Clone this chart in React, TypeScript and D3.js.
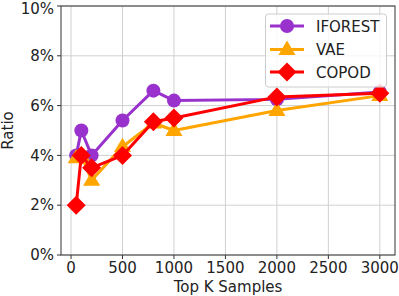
import React from "react";
import * as d3 from "d3";

const topK = [50, 100, 200, 500, 800, 1000, 2000, 3000];
const iforest = [4.0, 5.0, 4.0, 5.4, 6.6, 6.2, 6.25, 6.55];
const vae = [3.9, 4.0, 3.0, 4.35, 5.3, 5.0, 5.8, 6.4];
const copod = [2.0, 4.0, 3.5, 4.0, 5.35, 5.5, 6.35, 6.5];
const xTicks = [0, 500, 1000, 1500, 2000, 2500, 3000];
const yTicks = [0, 2, 4, 6, 8, 10];

const series = [
  { name: "IFOREST", values: iforest, color: "#9932CC", marker: "circle" },
  { name: "VAE", values: vae, color: "#FFA500", marker: "triangle" },
  { name: "COPOD", values: copod, color: "#FF0000", marker: "diamond" },
];

const W = 399;
const H = 296;
const m = { left: 61, right: 4, top: 6, bottom: 41 };
const font = "DejaVu Sans, sans-serif";

const Marker = ({ type, x, y, color }: { type: string; x: number; y: number; color: string }) => {
  if (type === "circle") return <circle cx={x} cy={y} r={7} fill={color} />;
  if (type === "triangle") {
    const r = 9;
    return (
      <path
        d={`M${x},${y - r} L${x + r * 0.95},${y + r * 0.6} L${x - r * 0.95},${y + r * 0.6}Z`}
        fill={color}
      />
    );
  }
  const r = 9.5;
  return <path d={`M${x},${y - r} L${x + r},${y} L${x},${y + r} L${x - r},${y}Z`} fill={color} />;
};

const App = () => {
  const x = d3.scaleLinear().domain([-97.5, 3147.5]).range([m.left, W - m.right]);
  const y = d3.scaleLinear().domain([0, 10]).range([H - m.bottom, m.top]);
  const line = d3
    .line<number>()
    .x((_, i) => x(topK[i]))
    .y((d) => y(d));

  const lx = 270;
  const ly = [26, 49.5, 72];

  return (
    <svg width={W} height={H} style={{ position: "absolute", left: 0, top: 0 }} fontFamily={font}>
      <rect width={W} height={H} fill="#fff" />
      {xTicks.map((t) => (
        <line key={"gx" + t} x1={x(t)} x2={x(t)} y1={m.top} y2={H - m.bottom} stroke="#d0d0d0" strokeWidth={1} />
      ))}
      {yTicks.map((t) => (
        <line key={"gy" + t} x1={m.left} x2={W - m.right} y1={y(t)} y2={y(t)} stroke="#d0d0d0" strokeWidth={1} />
      ))}
      {series.map((s) => (
        <g key={s.name}>
          <path d={line(s.values) || ""} fill="none" stroke={s.color} strokeWidth={3} strokeLinejoin="round" />
          {s.values.map((v, i) => (
            <Marker key={i} type={s.marker} x={x(topK[i])} y={y(v)} color={s.color} />
          ))}
        </g>
      ))}
      <rect
        x={m.left}
        y={m.top}
        width={W - m.right - m.left}
        height={H - m.bottom - m.top}
        fill="none"
        stroke="#333"
        strokeWidth={1}
      />
      {xTicks.map((t) => (
        <g key={"tx" + t}>
          <line x1={x(t)} x2={x(t)} y1={H - m.bottom} y2={H - m.bottom + 4} stroke="#333" />
          <text x={x(t)} y={H - m.bottom + 18} fontSize={15} textAnchor="middle" fill="#222">
            {t}
          </text>
        </g>
      ))}
      {yTicks.map((t) => (
        <g key={"ty" + t}>
          <line x1={m.left - 4} x2={m.left} y1={y(t)} y2={y(t)} stroke="#333" />
          <text x={m.left - 7} y={Math.max(y(t) + 5.2, 14)} fontSize={15} textAnchor="end" fill="#222">
            {t}%
          </text>
        </g>
      ))}
      <text x={(m.left + W - m.right) / 2} y={292} fontSize={15} textAnchor="middle" fill="#222">
        Top K Samples
      </text>
      <text transform={`translate(13,${(m.top + H - m.bottom) / 2}) rotate(-90)`} fontSize={15} textAnchor="middle" fill="#222">
        Ratio
      </text>
      <rect x={265.5} y={14} width={121} height={73} rx={3} fill="#fff" fillOpacity={0.8} stroke="#ccc" />
      {series.map((s, i) => (
        <g key={"lg" + s.name}>
          <line x1={lx} x2={lx + 34} y1={ly[i]} y2={ly[i]} stroke={s.color} strokeWidth={3} />
          <Marker type={s.marker} x={lx + 17} y={ly[i]} color={s.color} />
          <text x={316} y={ly[i] + 5.5} fontSize={15} fill="#222">
            {s.name}
          </text>
        </g>
      ))}
    </svg>
  );
};

export default App;
